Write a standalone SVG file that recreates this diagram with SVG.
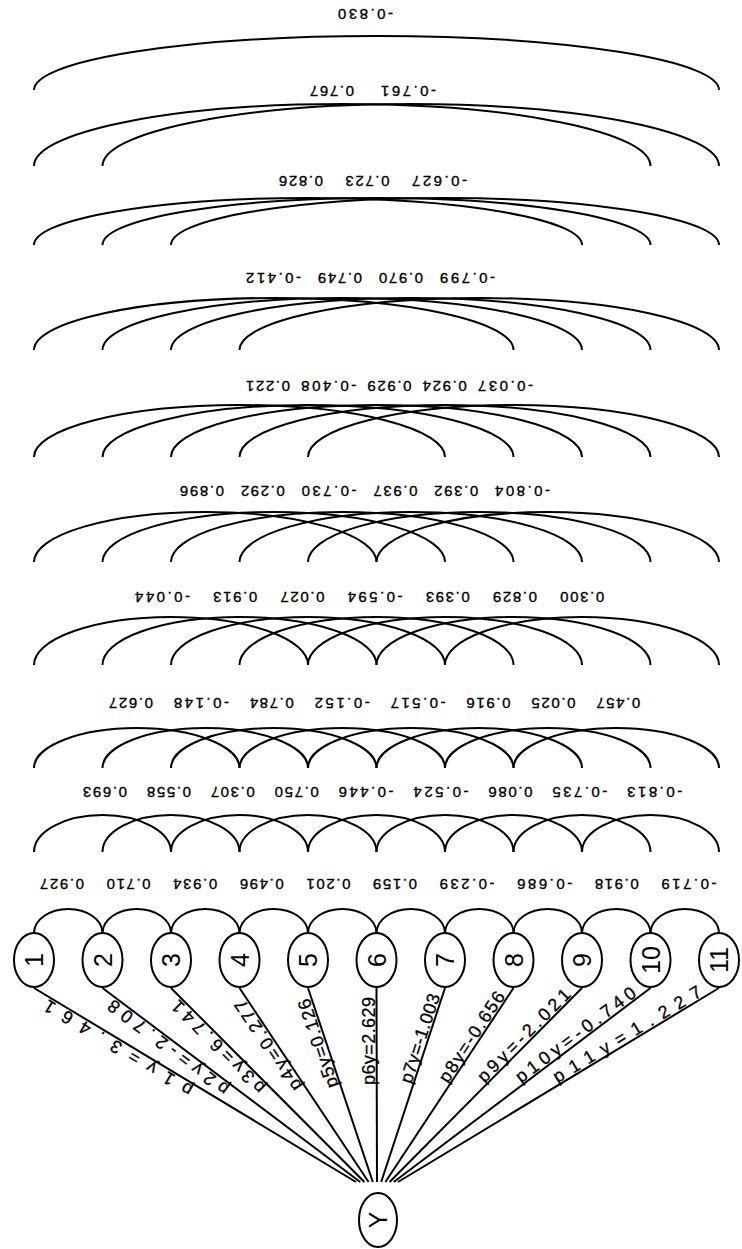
<svg xmlns="http://www.w3.org/2000/svg" width="742" height="1249" viewBox="0 0 742 1249">
<style>
.arc{fill:none;stroke:#000;stroke-width:2}
.ln{fill:none;stroke:#000;stroke-width:2}
.nd{fill:#fff;stroke:#000;stroke-width:2}
.w{font-family:"Liberation Sans","DejaVu Sans",sans-serif;font-size:15px;fill:#000;stroke:#000;stroke-width:0.35;text-anchor:end}
.pl{font-family:"Liberation Sans","DejaVu Sans",sans-serif;font-size:18px;fill:#000;stroke:#000;stroke-width:0.3}
.nl{font-family:"Liberation Sans","DejaVu Sans",sans-serif;font-size:25px;fill:#000;text-anchor:middle}
</style>
<rect width="742" height="1249" fill="#fff"/>
<g id="connectors">
<g id="arcs-level-10">
<path class="arc" d="M34,90 a342.5,54 0 0 1 685,0"/>
</g>
<g id="arcs-level-9">
<path class="arc" d="M34,166 a308.25,62 0 0 1 616.5,0"/>
<path class="arc" d="M102.5,166 a308.25,62 0 0 1 616.5,0"/>
</g>
<g id="arcs-level-8">
<path class="arc" d="M34,245 a274,47 0 0 1 548,0"/>
<path class="arc" d="M102.5,245 a274,47 0 0 1 548,0"/>
<path class="arc" d="M171,245 a274,47 0 0 1 548,0"/>
</g>
<g id="arcs-level-7">
<path class="arc" d="M34,350 a239.75,52 0 0 1 479.5,0"/>
<path class="arc" d="M102.5,350 a239.75,52 0 0 1 479.5,0"/>
<path class="arc" d="M171,350 a239.75,52 0 0 1 479.5,0"/>
<path class="arc" d="M239.5,350 a239.75,52 0 0 1 479.5,0"/>
</g>
<g id="arcs-level-6">
<path class="arc" d="M34,457 a205.5,52 0 0 1 411,0"/>
<path class="arc" d="M102.5,457 a205.5,52 0 0 1 411,0"/>
<path class="arc" d="M171,457 a205.5,52 0 0 1 411,0"/>
<path class="arc" d="M239.5,457 a205.5,52 0 0 1 411,0"/>
<path class="arc" d="M308,457 a205.5,52 0 0 1 411,0"/>
</g>
<g id="arcs-level-5">
<path class="arc" d="M34,562 a171.25,50 0 0 1 342.5,0"/>
<path class="arc" d="M102.5,562 a171.25,50 0 0 1 342.5,0"/>
<path class="arc" d="M171,562 a171.25,50 0 0 1 342.5,0"/>
<path class="arc" d="M239.5,562 a171.25,50 0 0 1 342.5,0"/>
<path class="arc" d="M308,562 a171.25,50 0 0 1 342.5,0"/>
<path class="arc" d="M376.5,562 a171.25,50 0 0 1 342.5,0"/>
</g>
<g id="arcs-level-4">
<path class="arc" d="M34,665 a137,48 0 0 1 274,0"/>
<path class="arc" d="M102.5,665 a137,48 0 0 1 274,0"/>
<path class="arc" d="M171,665 a137,48 0 0 1 274,0"/>
<path class="arc" d="M239.5,665 a137,48 0 0 1 274,0"/>
<path class="arc" d="M308,665 a137,48 0 0 1 274,0"/>
<path class="arc" d="M376.5,665 a137,48 0 0 1 274,0"/>
<path class="arc" d="M445,665 a137,48 0 0 1 274,0"/>
</g>
<g id="arcs-level-3">
<path class="arc" d="M34,768 a102.75,40 0 0 1 205.5,0"/>
<path class="arc" d="M102.5,768 a102.75,40 0 0 1 205.5,0"/>
<path class="arc" d="M171,768 a102.75,40 0 0 1 205.5,0"/>
<path class="arc" d="M239.5,768 a102.75,40 0 0 1 205.5,0"/>
<path class="arc" d="M308,768 a102.75,40 0 0 1 205.5,0"/>
<path class="arc" d="M376.5,768 a102.75,40 0 0 1 205.5,0"/>
<path class="arc" d="M445,768 a102.75,40 0 0 1 205.5,0"/>
<path class="arc" d="M513.5,768 a102.75,40 0 0 1 205.5,0"/>
</g>
<g id="arcs-level-2">
<path class="arc" d="M34,852 a68.5,37 0 0 1 137,0"/>
<path class="arc" d="M102.5,852 a68.5,37 0 0 1 137,0"/>
<path class="arc" d="M171,852 a68.5,37 0 0 1 137,0"/>
<path class="arc" d="M239.5,852 a68.5,37 0 0 1 137,0"/>
<path class="arc" d="M308,852 a68.5,37 0 0 1 137,0"/>
<path class="arc" d="M376.5,852 a68.5,37 0 0 1 137,0"/>
<path class="arc" d="M445,852 a68.5,37 0 0 1 137,0"/>
<path class="arc" d="M513.5,852 a68.5,37 0 0 1 137,0"/>
<path class="arc" d="M582,852 a68.5,37 0 0 1 137,0"/>
</g>
<g id="arcs-level-1">
<path class="arc" d="M34,933 a34.25,24 0 0 1 68.5,0"/>
<path class="arc" d="M102.5,933 a34.25,24 0 0 1 68.5,0"/>
<path class="arc" d="M171,933 a34.25,24 0 0 1 68.5,0"/>
<path class="arc" d="M239.5,933 a34.25,24 0 0 1 68.5,0"/>
<path class="arc" d="M308,933 a34.25,24 0 0 1 68.5,0"/>
<path class="arc" d="M376.5,933 a34.25,24 0 0 1 68.5,0"/>
<path class="arc" d="M445,933 a34.25,24 0 0 1 68.5,0"/>
<path class="arc" d="M513.5,933 a34.25,24 0 0 1 68.5,0"/>
<path class="arc" d="M582,933 a34.25,24 0 0 1 68.5,0"/>
<path class="arc" d="M650.5,933 a34.25,24 0 0 1 68.5,0"/>
</g>
<g id="lines-to-Y">
<path class="ln" d="M34,988 L356,1182"/>
<path class="ln" d="M102.5,988 L360.2,1182"/>
<path class="ln" d="M171,988 L364.4,1182"/>
<path class="ln" d="M239.5,988 L368.6,1182"/>
<path class="ln" d="M308,988 L372.8,1182"/>
<path class="ln" d="M376.5,988 L377,1182"/>
<path class="ln" d="M445,988 L381.2,1182"/>
<path class="ln" d="M513.5,988 L385.4,1182"/>
<path class="ln" d="M582,988 L389.6,1182"/>
<path class="ln" d="M650.5,988 L393.8,1182"/>
<path class="ln" d="M719,988 L398,1182"/>
</g>
<g id="line-labels">
<text class="pl" transform="translate(194,1086.7) rotate(-148.93)" textLength="170">p1y=3.461</text>
<text class="pl" transform="translate(230.2,1086.6) rotate(-143.03)" textLength="146">p2y=-2.708</text>
<text class="pl" transform="translate(266.3,1086.4) rotate(-134.91)" textLength="124">p3y=6.741</text>
<text class="pl" transform="translate(302.4,1086.1) rotate(-123.64)" textLength="106">p4y=0.277</text>
<text class="pl" transform="translate(338.5,1085.6) rotate(-108.53)" textLength="93">p5y=0.126</text>
<text class="pl" transform="translate(374.8,1085) rotate(-90)" textLength="88">p6y=2.629</text>
<text class="pl" transform="translate(411.2,1084.4) rotate(-71.79)" textLength="93">p7y=-1.003</text>
<text class="pl" transform="translate(447.8,1083.9) rotate(-56.56)" textLength="105">p8y=-0.656</text>
<text class="pl" transform="translate(484.4,1083.6) rotate(-45.24)" textLength="124">p9y=-2.021</text>
<text class="pl" transform="translate(521,1083.4) rotate(-37.08)" textLength="146">p10y=-0.740</text>
<text class="pl" transform="translate(557.5,1083.3) rotate(-31.15)" textLength="170">p11y=1.227</text>
</g>
</g>
<g id="weights">
<g id="weights-level-10">
<text class="w" transform="translate(338,9) rotate(180)" textLength="55">-0.830</text>
</g>
<g id="weights-level-9">
<text class="w" transform="translate(310,86) rotate(180)" textLength="44">0.767</text>
<text class="w" transform="translate(381,86) rotate(180)" textLength="55">-0.761</text>
</g>
<g id="weights-level-8">
<text class="w" transform="translate(279,176) rotate(180)" textLength="44">0.826</text>
<text class="w" transform="translate(345.5,176) rotate(180)" textLength="44">0.723</text>
<text class="w" transform="translate(412,176) rotate(180)" textLength="55">-0.627</text>
</g>
<g id="weights-level-7">
<text class="w" transform="translate(246,273) rotate(180)" textLength="55">-0.412</text>
<text class="w" transform="translate(318,273) rotate(180)" textLength="44">0.749</text>
<text class="w" transform="translate(379,273) rotate(180)" textLength="44">0.970</text>
<text class="w" transform="translate(440,273) rotate(180)" textLength="55">-0.799</text>
</g>
<g id="weights-level-6">
<text class="w" transform="translate(246,381) rotate(180)" textLength="44">0.221</text>
<text class="w" transform="translate(301.25,381) rotate(180)" textLength="55">-0.408</text>
<text class="w" transform="translate(367.5,381) rotate(180)" textLength="44">0.929</text>
<text class="w" transform="translate(422.75,381) rotate(180)" textLength="44">0.924</text>
<text class="w" transform="translate(478,381) rotate(180)" textLength="55">-0.037</text>
</g>
<g id="weights-level-5">
<text class="w" transform="translate(180,486) rotate(180)" textLength="44">0.896</text>
<text class="w" transform="translate(240.8,486) rotate(180)" textLength="44">0.292</text>
<text class="w" transform="translate(301.6,486) rotate(180)" textLength="55">-0.730</text>
<text class="w" transform="translate(373.4,486) rotate(180)" textLength="44">0.937</text>
<text class="w" transform="translate(434.2,486) rotate(180)" textLength="44">0.392</text>
<text class="w" transform="translate(495,486) rotate(180)" textLength="55">-0.804</text>
</g>
<g id="weights-level-4">
<text class="w" transform="translate(135,592) rotate(180)" textLength="55">-0.044</text>
<text class="w" transform="translate(213.2,592) rotate(180)" textLength="44">0.913</text>
<text class="w" transform="translate(280.4,592) rotate(180)" textLength="44">0.027</text>
<text class="w" transform="translate(347.6,592) rotate(180)" textLength="55">-0.594</text>
<text class="w" transform="translate(425.8,592) rotate(180)" textLength="44">0.393</text>
<text class="w" transform="translate(493,592) rotate(180)" textLength="44">0.829</text>
<text class="w" transform="translate(560.2,592) rotate(180)" textLength="44">0.300</text>
</g>
<g id="weights-level-3">
<text class="w" transform="translate(109,698) rotate(180)" textLength="44">0.627</text>
<text class="w" transform="translate(173.9,698) rotate(180)" textLength="55">-0.148</text>
<text class="w" transform="translate(249.8,698) rotate(180)" textLength="44">0.784</text>
<text class="w" transform="translate(314.7,698) rotate(180)" textLength="55">-0.152</text>
<text class="w" transform="translate(390.6,698) rotate(180)" textLength="55">-0.517</text>
<text class="w" transform="translate(466.5,698) rotate(180)" textLength="44">0.916</text>
<text class="w" transform="translate(531.4,698) rotate(180)" textLength="44">0.025</text>
<text class="w" transform="translate(596.3,698) rotate(180)" textLength="44">0.457</text>
</g>
<g id="weights-level-2">
<text class="w" transform="translate(83,787) rotate(180)" textLength="44">0.693</text>
<text class="w" transform="translate(146.9,787) rotate(180)" textLength="44">0.558</text>
<text class="w" transform="translate(210.8,787) rotate(180)" textLength="44">0.307</text>
<text class="w" transform="translate(274.7,787) rotate(180)" textLength="44">0.750</text>
<text class="w" transform="translate(338.6,787) rotate(180)" textLength="55">-0.446</text>
<text class="w" transform="translate(413.5,787) rotate(180)" textLength="55">-0.524</text>
<text class="w" transform="translate(488.4,787) rotate(180)" textLength="44">0.086</text>
<text class="w" transform="translate(552.3,787) rotate(180)" textLength="55">-0.735</text>
<text class="w" transform="translate(627.2,787) rotate(180)" textLength="55">-0.813</text>
</g>
<g id="weights-level-1">
<text class="w" transform="translate(40,879) rotate(180)" textLength="44">0.927</text>
<text class="w" transform="translate(106.6,879) rotate(180)" textLength="44">0.710</text>
<text class="w" transform="translate(173.2,879) rotate(180)" textLength="44">0.934</text>
<text class="w" transform="translate(239.8,879) rotate(180)" textLength="44">0.496</text>
<text class="w" transform="translate(306.4,879) rotate(180)" textLength="44">0.201</text>
<text class="w" transform="translate(373,879) rotate(180)" textLength="44">0.159</text>
<text class="w" transform="translate(439.6,879) rotate(180)" textLength="55">-0.239</text>
<text class="w" transform="translate(517.2,879) rotate(180)" textLength="55">-0.686</text>
<text class="w" transform="translate(594.8,879) rotate(180)" textLength="44">0.918</text>
<text class="w" transform="translate(661.4,879) rotate(180)" textLength="55">-0.719</text>
</g>
</g>
<g id="node-1"><ellipse class="nd" cx="34" cy="960" rx="20" ry="27"/><text class="nl" transform="translate(34,960) rotate(-90)" y="9">1</text></g>
<g id="node-2"><ellipse class="nd" cx="102.5" cy="960" rx="20" ry="27"/><text class="nl" transform="translate(102.5,960) rotate(-90)" y="9">2</text></g>
<g id="node-3"><ellipse class="nd" cx="171" cy="960" rx="20" ry="27"/><text class="nl" transform="translate(171,960) rotate(-90)" y="9">3</text></g>
<g id="node-4"><ellipse class="nd" cx="239.5" cy="960" rx="20" ry="27"/><text class="nl" transform="translate(239.5,960) rotate(-90)" y="9">4</text></g>
<g id="node-5"><ellipse class="nd" cx="308" cy="960" rx="20" ry="27"/><text class="nl" transform="translate(308,960) rotate(-90)" y="9">5</text></g>
<g id="node-6"><ellipse class="nd" cx="376.5" cy="960" rx="20" ry="27"/><text class="nl" transform="translate(376.5,960) rotate(-90)" y="9">6</text></g>
<g id="node-7"><ellipse class="nd" cx="445" cy="960" rx="20" ry="27"/><text class="nl" transform="translate(445,960) rotate(-90)" y="9">7</text></g>
<g id="node-8"><ellipse class="nd" cx="513.5" cy="960" rx="20" ry="27"/><text class="nl" transform="translate(513.5,960) rotate(-90)" y="9">8</text></g>
<g id="node-9"><ellipse class="nd" cx="582" cy="960" rx="20" ry="27"/><text class="nl" transform="translate(582,960) rotate(-90)" y="9">9</text></g>
<g id="node-10"><ellipse class="nd" cx="650.5" cy="960" rx="20" ry="27"/><text class="nl" transform="translate(650.5,960) rotate(-90)" y="9">10</text></g>
<g id="node-11"><ellipse class="nd" cx="719" cy="960" rx="20" ry="27"/><text class="nl" transform="translate(719,960) rotate(-90)" y="9">11</text></g>
<g id="node-Y"><ellipse class="nd" cx="378" cy="1220" rx="19" ry="27"/><text class="nl" transform="translate(378,1220) rotate(-90)" y="8.6">Y</text></g>
</svg>
